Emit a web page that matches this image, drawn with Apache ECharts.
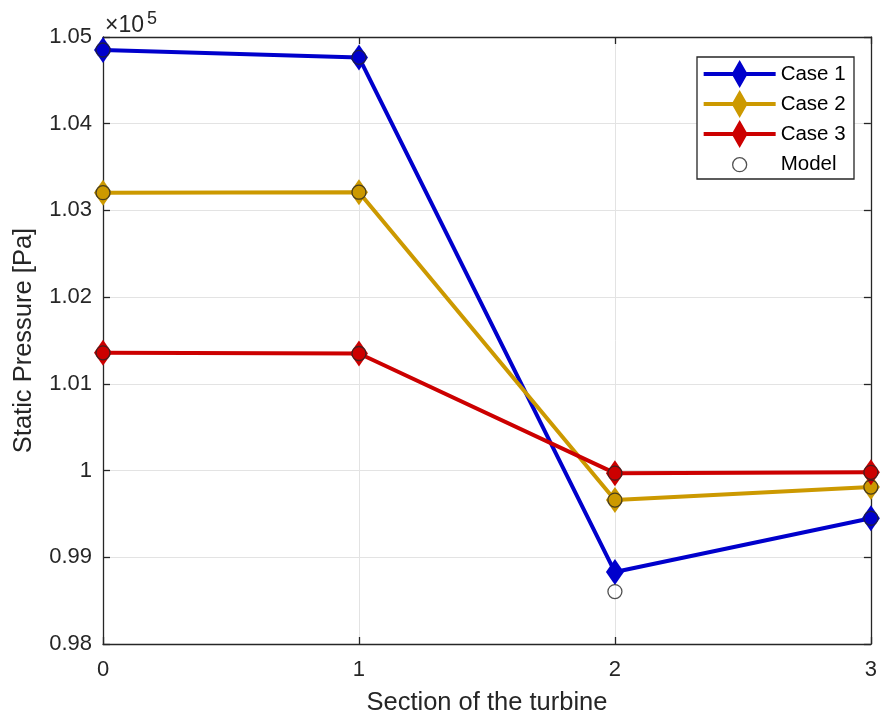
<!DOCTYPE html>
<html>
<head>
<meta charset="utf-8">
<script src="https://cdn.jsdelivr.net/npm/echarts@6/dist/echarts.min.js"></script>
<style>
  html, body { margin: 0; padding: 0; background: #fff; }
  #chart { width: 880px; height: 722px; }
</style>
</head>
<body>
<div id="chart"></div>
<script>
// Turbine static pressure per section, three operating cases plus model predictions
const sections = [0, 1, 2, 3];
const case1 = [104850, 104765, 98830, 99450];
const case2 = [103205, 103210, 99660, 99810];
const case3 = [101358, 101350, 99970, 99980];
const modelCase1 = [104850, 104765, 98605, 99450];
const modelCase2 = [103205, 103210, 99660, 99810];
const modelCase3 = [101358, 101350, 99970, 99980];
const seriesNames = ['Case 1', 'Case 2', 'Case 3', 'Model'];
const xTicks = { min: 0, max: 3, step: 1 };
const yTicks = { min: 98000, max: 105000, step: 1000 };

const colors = ['#0000cc', '#cc9900', '#cc0000'];
const axisColor = '#262626';
const font = "'Liberation Sans', Arial, Helvetica, sans-serif";

// legend glyphs drawn in a 72x28 box: line segment with a tall diamond,
// and a small hollow circle centred in the same box (the two bare moveTo
// points only pin the box extent)
const lineDiamondIcon = 'path://M0,12L72,12L72,16L0,16Z M36,0L44,14L36,28L28,14Z';
const hollowCircleIcon = 'path://M0,0 M72,28 M43,14 A7,7 0 1,1 29,14 A7,7 0 1,1 43,14 Z';

const pairs = (ys) => sections.map((x, i) => [x, ys[i]]);

const modelPoints = [].concat(pairs(modelCase1), pairs(modelCase2), pairs(modelCase3));

function caseSeries(name, values, color) {
  return {
    name: name,
    type: 'line',
    data: pairs(values),
    clip: false,
    symbol: 'diamond',
    symbolSize: [18, 26],
    lineStyle: { color: color, width: 4 },
    itemStyle: { color: color, borderWidth: 0 },
    emphasis: { disabled: true },
    z: 3
  };
}

const chart = echarts.init(document.getElementById('chart'), null, { renderer: 'canvas' });

const baseAxis = {
  type: 'value',
  axisLine: { show: true, onZero: false, lineStyle: { color: axisColor, width: 1.3 } },
  axisTick: { show: true, inside: true, length: 7, lineStyle: { color: axisColor, width: 1.3 } }
};

const legendItems = seriesNames.slice(0, 3).map((n, i) => ({
  name: n, icon: lineDiamondIcon, itemStyle: { color: colors[i], borderWidth: 0 }
}));
legendItems.push({
  name: seriesNames[3], icon: hollowCircleIcon,
  itemStyle: { color: 'rgba(0,0,0,0)', borderColor: '#262626', borderWidth: 1.3 }
});

const option = {
  animation: false,
  backgroundColor: '#ffffff',
  grid: { left: 103, right: 7, top: 37, bottom: 78, containLabel: false },
  xAxis: [
    Object.assign({}, baseAxis, {
      position: 'bottom',
      min: xTicks.min, max: xTicks.max, interval: xTicks.step,
      name: 'Section of the turbine',
      nameLocation: 'middle',
      nameGap: 46,
      nameTextStyle: { fontFamily: font, fontSize: 25.5, color: axisColor },
      axisLabel: { fontFamily: font, fontSize: 22, color: axisColor, margin: 15 },
      splitLine: { show: true, lineStyle: { color: '#e3e3e3', width: 1 } }
    }),
    Object.assign({}, baseAxis, {
      position: 'top',
      min: xTicks.min, max: xTicks.max, interval: xTicks.step,
      axisLabel: { show: false },
      splitLine: { show: false }
    })
  ],
  yAxis: [
    Object.assign({}, baseAxis, {
      position: 'left',
      min: yTicks.min, max: yTicks.max, interval: yTicks.step,
      name: 'Static Pressure [Pa]',
      nameLocation: 'middle',
      nameGap: 66,
      nameTextStyle: { fontFamily: font, fontSize: 25.5, color: axisColor },
      axisLabel: {
        fontFamily: font, fontSize: 22, color: axisColor, margin: 11,
        padding: [5, 0, 0, 0],
        formatter: (v) => String(+(v / 1e5).toFixed(2))
      },
      splitLine: { show: true, lineStyle: { color: '#e3e3e3', width: 1 } }
    }),
    Object.assign({}, baseAxis, {
      position: 'right',
      min: yTicks.min, max: yTicks.max, interval: yTicks.step,
      axisLabel: { show: false },
      splitLine: { show: false }
    })
  ],
  legend: {
    orient: 'vertical',
    left: 703, top: 60,
    padding: 0,
    itemWidth: 72, itemHeight: 28, itemGap: 2, itemTextGap: 5,
    selectedMode: false,
    textStyle: { fontFamily: font, fontSize: 20.5, color: '#000' },
    data: legendItems
  },
  graphic: [
    {
      type: 'rect', z: 3, silent: true,
      shape: { x: 697, y: 57, width: 157, height: 122 },
      style: { fill: '#ffffff', stroke: axisColor, lineWidth: 1.3 }
    },
    {
      type: 'text', left: 105, top: 14, silent: true,
      style: { text: '×10', fontFamily: font, fontSize: 23, fill: axisColor }
    },
    {
      type: 'text', left: 147, top: 10, silent: true,
      style: { text: '5', fontFamily: font, fontSize: 18, fill: axisColor }
    }
  ],
  series: [
    caseSeries(seriesNames[0], case1, colors[0]),
    caseSeries(seriesNames[1], case2, colors[1]),
    caseSeries(seriesNames[2], case3, colors[2]),
    {
      name: seriesNames[3],
      type: 'scatter',
      data: modelPoints,
      clip: false,
      symbol: 'circle',
      symbolSize: 14,
      itemStyle: { color: 'rgba(0,0,0,0)', borderColor: '#262626', borderWidth: 1.3 },
      emphasis: { disabled: true },
      z: 4
    }
  ]
};

chart.setOption(option);
</script>
</body>
</html>
